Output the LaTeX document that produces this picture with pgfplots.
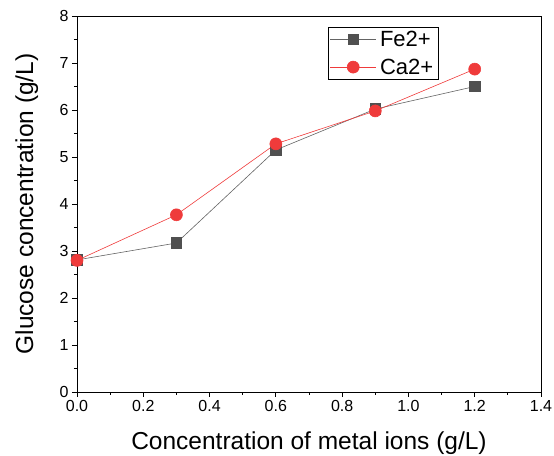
\documentclass[border=0pt]{standalone}
\usepackage{fontspec}
\setmainfont{Liberation Sans}
\usepackage{pgfplots}
\pgfplotsset{compat=1.18}
\definecolor{feGray}{RGB}{80,80,80}
\definecolor{feLine}{RGB}{100,100,100}
\definecolor{caRed}{RGB}{239,59,59}

\begin{document}
\begin{tikzpicture}
\begin{axis}[
    name=ax,
    scale only axis,
    width=464pt, height=376pt,
    xmin=0, xmax=1.4, ymin=0, ymax=8,
    xtick={0,0.2,...,1.4},
    ytick={0,1,...,8},
    minor x tick num=1,
    minor y tick num=1,
    xtick pos=bottom, ytick pos=left,
    tick align=outside,
    major tick length=5pt, minor tick length=3pt,
    every tick/.style={black, line width=0.8pt},
    axis line style={line width=0.9pt},
    xticklabel style={/pgf/number format/fixed, /pgf/number format/precision=1, /pgf/number format/fixed zerofill},
    /pgf/number format/assume math mode=true,
    tick label style={font=\fontsize{16}{18}\selectfont},
    label style={font=\fontsize{24.5}{28}\selectfont},
    xlabel={Concentration of metal ions (g/L)},
    ylabel={Glucose concentration (g/L)},
    xlabel style={at={(axis description cs:0.5,-0.154)}, anchor=base},
    ylabel style={at={(axis description cs:-0.108,0.5)}, anchor=center},
    legend style={at={(0.541,0.971)}, anchor=north west, draw=black, line width=0.8pt,
        font=\fontsize{22}{25}\selectfont, inner sep=1.5pt, row sep=7pt,
        nodes={inner xsep=3.5pt, inner ysep=2pt}},
    legend cell align=left,
    legend image code/.code={
        \draw[mark repeat=2, mark phase=2] plot coordinates {(0pt,0pt) (23pt,0pt) (46pt,0pt)};
    },
]
\addplot[color=feLine, line width=0.6pt, mark=square*, mark size=5.3pt,
    mark options={fill=feGray, draw=feGray}] coordinates {
    (0,2.81) (0.3,3.17) (0.6,5.15) (0.9,6.02) (1.2,6.50)
};
\addlegendentry{Fe2+}
\addplot[color=caRed, line width=0.6pt, mark=*, mark size=6pt,
    mark options={fill=caRed, draw=caRed}] coordinates {
    (0,2.80) (0.3,3.77) (0.6,5.28) (0.9,5.98) (1.2,6.87)
};
\addlegendentry{Ca2+}
\end{axis}
\pgfresetboundingbox
\path ([shift={(-77pt,-64pt)}]ax.south west) rectangle ([shift={(13pt,16pt)}]ax.north east);
\end{tikzpicture}
\end{document}
